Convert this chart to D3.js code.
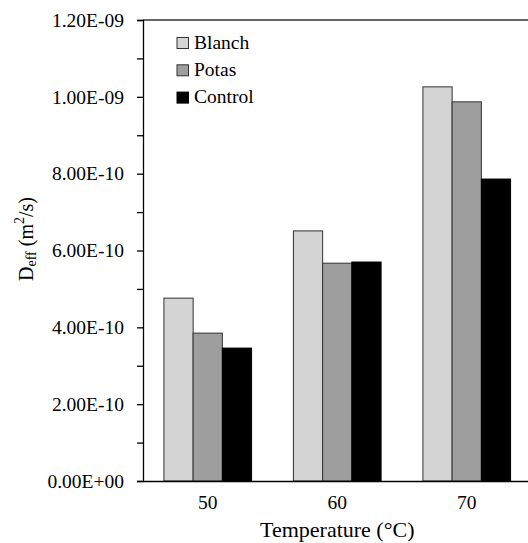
<!DOCTYPE html>
<html>
<head>
<meta charset="utf-8">
<script src="https://cdn.jsdelivr.net/npm/d3@7/dist/d3.min.js"></script>
<style>
  html, body { margin: 0; padding: 0; background: #fff; }
  svg { display: block; }
  svg text { font-family: "Liberation Serif", "DejaVu Serif", serif !important; fill: #000; }
</style>
</head>
<body>
<svg id="chart" width="528" height="543" font-family="Liberation Serif, serif"></svg>
<script>
const categories = ["50", "60", "70"];
const seriesNames = ["Blanch", "Potas", "Control"];
const blanch = [4.76e-10, 6.51e-10, 1.026e-9];
const potas = [3.85e-10, 5.67e-10, 9.87e-10];
const control = [3.46e-10, 5.70e-10, 7.86e-10];
const yTickValues = [0, 2e-10, 4e-10, 6e-10, 8e-10, 1e-9, 1.2e-9];
const yTickLabels = ["0.00E+00", "2.00E-10", "4.00E-10", "6.00E-10", "8.00E-10", "1.00E-09", "1.20E-09"];
const yMinorTicks = [1e-10, 3e-10, 5e-10, 7e-10, 9e-10, 1.1e-9];
const colors = ["#d3d4d3", "#9d9e9d", "#000000"];

const seriesValues = [blanch, potas, control];
const FONT = "Liberation Serif, serif";

const svg = d3.select("#chart");
const mLeft = 143, mRight = 531.5, mTop = 20, mBottom = 481;

const x = d3.scaleBand().domain(categories).range([mLeft, mRight]).paddingInner(0.323).paddingOuter(0.1615);
const xs = d3.scaleBand().domain(seriesNames).range([0, x.bandwidth()]);
const y = d3.scaleLinear().domain([0, 1.2e-9]).range([mBottom, mTop]);

// top border line
svg.append("line").attr("x1", mLeft).attr("x2", 528).attr("y1", mTop).attr("y2", mTop)
  .attr("stroke", "#333").attr("stroke-width", 1.3);

// bars
categories.forEach((c, i) => {
  seriesNames.forEach((s, j) => {
    const v = seriesValues[j][i];
    svg.append("rect")
      .attr("x", x(c) + xs(s))
      .attr("y", y(v))
      .attr("width", xs.bandwidth())
      .attr("height", y(0) - y(v))
      .attr("fill", colors[j])
      .attr("stroke", j === 2 ? "#000" : "#333")
      .attr("stroke-width", 1);
  });
});

// y axis
const yAxis = d3.axisLeft(y).tickValues(yTickValues).tickSize(6).tickPadding(13)
  .tickFormat((d, i) => yTickLabels[i]);
const gy = svg.append("g").attr("transform", `translate(${mLeft},0)`).call(yAxis)
  .attr("font-family", FONT).attr("font-size", 19.5);
gy.select(".domain").attr("stroke", "#000").attr("stroke-width", 1.3);
gy.selectAll(".tick line").attr("stroke", "#000").attr("stroke-width", 1.3);
const gyMinor = svg.append("g").attr("transform", `translate(${mLeft},0)`)
  .call(d3.axisLeft(y).tickValues(yMinorTicks).tickSize(6).tickFormat(""));
gyMinor.select(".domain").remove();
gyMinor.selectAll(".tick line").attr("stroke", "#000").attr("stroke-width", 1.3);

// x axis
const xAxis = d3.axisBottom(x).tickSize(0).tickPadding(14);
const gx = svg.append("g").attr("transform", `translate(0,${mBottom})`).call(xAxis)
  .attr("font-family", FONT).attr("font-size", 19.5);
gx.select(".domain").attr("stroke", "#000").attr("stroke-width", 1.3);

// x title
svg.append("text").attr("x", (mLeft + mRight) / 2).attr("y", 536.5)
  .attr("text-anchor", "middle").attr("font-family", FONT).attr("font-size", 22).text("Temperature (°C)");

// y title
const yt = svg.append("text").attr("transform", "translate(33,239) rotate(-90)")
  .attr("text-anchor", "middle").attr("font-family", FONT).attr("font-size", 20);
yt.append("tspan").text("D");
yt.append("tspan").attr("dy", 3).attr("font-size", 14).text("eff");
yt.append("tspan").attr("dy", -3).text(" (m");
yt.append("tspan").attr("dy", -9).attr("font-size", 14).text("2");
yt.append("tspan").attr("dy", 9).text("/s)");

// legend
const lg = svg.append("g").attr("font-family", FONT).attr("font-size", 19.5);
seriesNames.forEach((s, j) => {
  const yy = 37.5 + j * 27.3;
  lg.append("rect").attr("x", 177).attr("y", yy).attr("width", 11.5).attr("height", 11)
    .attr("fill", colors[j]).attr("stroke", j === 2 ? "#000" : "#333").attr("stroke-width", 1);
  lg.append("text").attr("x", 194).attr("y", yy + 11).text(s);
});
</script>
</body>
</html>
